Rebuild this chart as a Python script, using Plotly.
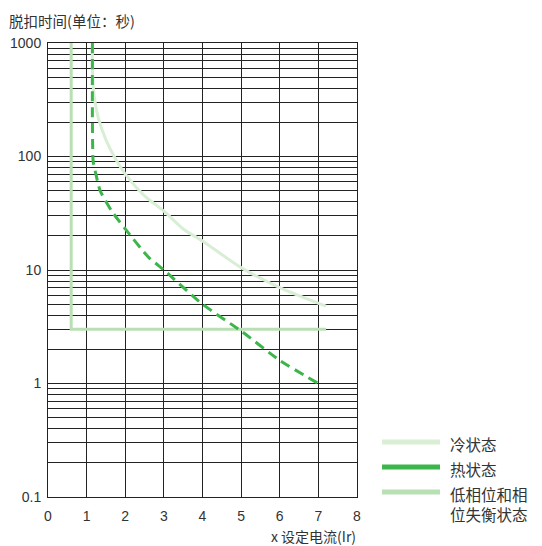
import plotly.graph_objects as go

# 冷状态 (cold state)
cold_x = [1.15, 1.15, 1.17, 1.22, 1.3, 1.5, 1.75, 2.0, 2.5, 3.0, 3.5, 4.0, 5.0, 6.0, 7.2]
cold_y = [1000, 600, 420, 300, 220, 140, 95, 70, 45, 33, 23, 18, 10.5, 7.0, 4.8]

# 热状态 (hot state)
hot_x = [1.15, 1.15, 1.17, 1.22, 1.35, 1.65, 2.0, 2.6, 3.0, 4.0, 5.0, 6.0, 7.0]
hot_y = [1000, 200, 90, 75, 50, 33, 23, 13, 10, 5.0, 2.9, 1.6, 1.0]

# 低相位和相位失衡状态 (phase loss / imbalance)
phase_x = [0.6, 0.6, 7.2]
phase_y = [1000, 3, 3]

legend_names = ["冷状态", "热状态", "低相位和相<br>位失衡状态"]
legend_colors = ["#d9efd5", "#3cb54a", "#b9dfb4"]

x_ticks = [0, 1, 2, 3, 4, 5, 6, 7, 8]
decades = [0.1, 1, 10, 100, 1000]
decade_labels = ["0.1", "1", "10", "100", "1000"]

y_vals, y_text = [], []
for d, lab in zip(decades[:-1], decade_labels[:-1]):
    for m in range(1, 10):
        y_vals.append(d * m)
        y_text.append(lab if m == 1 else "")
y_vals.append(1000)
y_text.append("1000")

CJK = "Noto Sans CJK SC"
TXT = "#333333"

fig = go.Figure()

fig.add_trace(go.Scatter(x=phase_x, y=phase_y, mode="lines",
                         line=dict(color=legend_colors[2], width=3),
                         showlegend=False, hoverinfo="skip"))
fig.add_trace(go.Scatter(x=cold_x, y=cold_y, mode="lines",
                         line=dict(color=legend_colors[0], width=3, shape="spline", smoothing=0.8),
                         showlegend=False, hoverinfo="skip"))
fig.add_trace(go.Scatter(x=hot_x, y=hot_y, mode="lines",
                         line=dict(color=legend_colors[1], width=3, dash="10px,6px",
                                   shape="spline", smoothing=0.6),
                         showlegend=False, hoverinfo="skip"))

# manual legend (hot state shown solid in the legend)
leg_y = [0.1211, 0.0661, 0.011]
for name, col, yy in zip(legend_names, legend_colors, leg_y):
    fig.add_shape(type="line", xref="paper", yref="paper",
                  x0=1.081, x1=1.2686, y0=yy, y1=yy,
                  line=dict(color=col, width=5))
    fig.add_annotation(text=name, xref="paper", yref="paper",
                       x=1.2945, y=yy + 0.025, xanchor="left", yanchor="top",
                       showarrow=False, align="left",
                       font=dict(family=CJK, size=15.5, color=TXT))

fig.add_annotation(text="脱扣时间(单位：秒)", xref="paper", yref="paper",
                   x=-0.132, y=1.0771, xanchor="left", yanchor="top",
                   showarrow=False, font=dict(family=CJK, size=14.5, color=TXT))
fig.add_annotation(text="x 设定电流(Ir)", xref="paper", yref="paper",
                   x=1.003, y=-0.086, xanchor="right", yanchor="middle",
                   showarrow=False, font=dict(family=CJK, size=14, color=TXT))

fig.update_xaxes(range=[0, 8], tickvals=x_ticks, showgrid=True, gridcolor="#222222",
                 gridwidth=1, showline=True, linecolor="#222222", linewidth=1, mirror=True,
                 zeroline=False, ticks="", ticklabelstandoff=6, automargin=False,
                 tickfont=dict(family="Liberation Sans", size=14, color=TXT))
fig.update_yaxes(type="log", range=[-1, 3], tickvals=y_vals, ticktext=y_text,
                 showgrid=True, gridcolor="#222222", gridwidth=1, showline=True,
                 linecolor="#222222", linewidth=1, mirror=True, zeroline=False, ticks="",
                 ticklabelstandoff=3, automargin=False,
                 tickfont=dict(family="Liberation Sans", size=14, color=TXT))

# page body has an 8px margin, so margins are shifted to land the plot area in place
fig.update_layout(width=542, height=546, margin=dict(l=40, r=193, t=35, b=57),
                  plot_bgcolor="white", paper_bgcolor="white", showlegend=False)

fig.write_html("out.html")
